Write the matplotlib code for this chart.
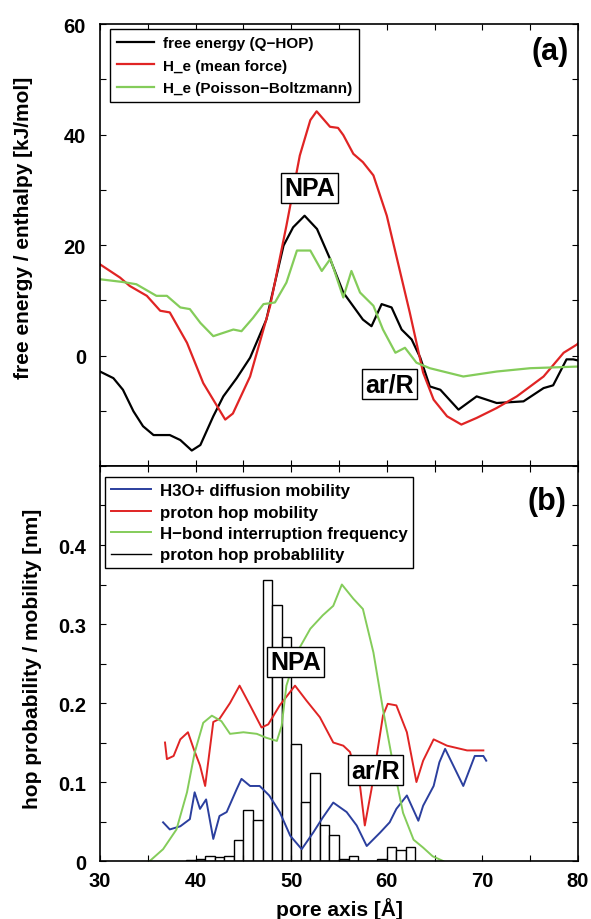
import numpy as np
import matplotlib
matplotlib.use("Agg")
import matplotlib.pyplot as plt
from matplotlib.ticker import MultipleLocator, FixedLocator, FuncFormatter
from matplotlib.lines import Line2D

plt.rcParams['font.family'] = ['Liberation Sans', 'DejaVu Sans']

# ---- panel (a): free energy / enthalpy profiles along the pore axis
fe_x = [30, 31.4, 32.4, 33.5, 34.5, 35.6, 37.3, 38.4, 39.6, 40.5, 41.85, 42.9, 44.3, 45.7,
        47.4, 49.2, 50.2, 51.4, 52.7, 54.06, 55.45, 57.5, 58.4, 59.46, 60.5, 61.55, 62.6,
        63.5, 64.5, 65.6, 67.5, 69.4, 71.5, 74.3, 76.4, 77.4, 78.8, 79.5, 80]
fe_y = [-2.9, -4.1, -6.2, -10.1, -12.8, -14.4, -14.4, -15.3, -17.2, -16.2, -11.0, -7.4, -4.1,
        -0.4, 6.5, 19.9, 23.2, 25.3, 22.9, 17.5, 11.4, 6.5, 5.3, 9.3, 8.7, 4.7, 2.9,
        -0.4, -5.6, -6.2, -9.8, -7.4, -8.6, -8.3, -5.9, -5.4, -0.7, -0.7, -0.9]

mf_x = [30, 32.1, 33.1, 34.9, 36.3, 37.3, 39.1, 40.8, 43.1, 43.9, 45.7, 47.8, 49.5, 50.9,
        52.0, 52.66, 54.06, 54.9, 55.45, 56.5, 57.5, 58.6, 60.0, 61.0, 62.4, 63.8, 64.9,
        66.3, 67.8, 69.4, 71.5, 73.6, 76.4, 78.5, 79.9, 80]
mf_y = [16.5, 14.1, 12.6, 10.8, 8.1, 7.8, 2.3, -5.0, -11.6, -10.5, -3.8, 9.0, 23.5, 36.2,
        42.6, 44.2, 41.4, 41.2, 39.9, 36.5, 35.0, 32.6, 25.3, 18.0, 7.8, -3.1, -8.0,
        -11.0, -12.5, -11.3, -9.5, -7.4, -3.8, 0.5, 2.0, 2.2]

pb_x = [30, 32.4, 33.8, 35.9, 37.0, 38.4, 39.4, 40.5, 41.85, 43.95, 44.8, 46.0, 47.1, 48.3,
        49.5, 50.6, 52.0, 53.2, 54.1, 55.45, 56.3, 57.2, 58.6, 59.6, 60.9, 61.9, 63.1,
        64.5, 68.0, 71.5, 75.0, 80]
pb_y = [13.8, 13.3, 12.9, 10.8, 10.8, 8.7, 8.4, 5.9, 3.5, 4.7, 4.4, 6.8, 9.3, 9.6,
        13.2, 19.0, 19.0, 15.3, 17.5, 10.5, 15.3, 11.4, 9.0, 4.7, 0.5, 1.4, -1.3,
        -2.3, -3.8, -2.9, -2.3, -2.0]

# ---- panel (b): mobilities and hop probability
h3o_x = [36.6, 37.3, 38.4, 39.4, 39.9, 40.46, 41.1, 41.85, 42.5, 43.25, 44.3, 44.8, 45.7,
         46.7, 47.7, 48.8, 49.9, 51.1, 52.3, 53.3, 54.4, 55.8, 56.85, 57.9, 59.3, 60.3,
         61.0, 62.1, 63.3, 63.8, 64.9, 65.5, 66.1, 66.95, 68.0, 69.2, 70.1, 70.4]
h3o_y = [0.049, 0.040, 0.044, 0.053, 0.087, 0.066, 0.078, 0.028, 0.057, 0.062, 0.091, 0.104,
         0.095, 0.095, 0.083, 0.062, 0.032, 0.015, 0.036, 0.055, 0.074, 0.062, 0.045, 0.019,
         0.036, 0.049, 0.066, 0.083, 0.051, 0.070, 0.095, 0.125, 0.142, 0.121, 0.095, 0.133,
         0.133, 0.127]

hop_x = [36.8, 37.0, 37.7, 38.4, 39.2, 39.8, 40.46, 41.0, 41.85, 42.5, 43.6, 44.6, 45.7,
         46.9, 47.6, 48.8, 50.4, 51.6, 53.0, 54.4, 55.45, 56.15, 57.2, 57.7, 58.4, 59.6,
         60.1, 61.0, 62.1, 63.1, 63.8, 64.9, 66.3, 68.4, 70.1]
hop_y = [0.150, 0.129, 0.133, 0.154, 0.163, 0.142, 0.121, 0.095, 0.176, 0.180, 0.200, 0.222,
         0.197, 0.169, 0.173, 0.197, 0.222, 0.203, 0.182, 0.150, 0.146, 0.138, 0.095, 0.045,
         0.091, 0.184, 0.199, 0.197, 0.163, 0.100, 0.127, 0.154, 0.146, 0.140, 0.140]

hb_x = [35.2, 36.6, 38.0, 39.1, 39.9, 40.8, 41.7, 42.7, 43.6, 45.0, 46.4, 47.4, 48.5, 49.0,
        49.5, 50.6, 52.0, 53.3, 54.4, 55.3, 56.5, 57.5, 58.6, 59.6, 60.7, 61.7, 62.8,
        63.8, 64.8, 65.9]
hb_y = [0.0, 0.015, 0.040, 0.087, 0.137, 0.175, 0.184, 0.177, 0.161, 0.163, 0.161, 0.156,
        0.152, 0.171, 0.222, 0.264, 0.294, 0.311, 0.323, 0.350, 0.332, 0.319, 0.264, 0.192,
        0.120, 0.061, 0.027, 0.017, 0.006, 0.0]

# histogram of proton hop probability, 1 A bins (left edges)
bin_left = [39, 40, 41, 42, 43, 44, 45, 46, 47, 48, 49, 50, 51, 52, 53, 54, 55, 56, 57, 58,
            59, 60, 61, 62]
bin_prob = [0.001, 0.003, 0.006, 0.005, 0.007, 0.026, 0.065, 0.052, 0.356, 0.324, 0.284,
            0.148, 0.075, 0.111, 0.046, 0.033, 0.003, 0.006, 0.0, 0.0, 0.003, 0.018, 0.014,
            0.018]

red = '#e02424'
green = '#84cc5a'
blue = '#2b3f9e'

fig = plt.figure(figsize=(5.91, 9.2), dpi=100)
ax1 = fig.add_axes([0.1692, 0.4924, 0.8088, 0.4804])
ax2 = fig.add_axes([0.1692, 0.0630, 0.8088, 0.4294])

ax1.plot(fe_x, fe_y, color='black', lw=1.6, label='free energy (Q\u2212HOP)')
ax1.plot(mf_x, mf_y, color=red, lw=1.6, label='H_e (mean force)')
ax1.plot(pb_x, pb_y, color=green, lw=1.6, label='H_e (Poisson\u2212Boltzmann)')

ax1.set_xlim(30, 80)
ax1.set_ylim(-20, 60)
ax1.yaxis.set_major_locator(FixedLocator([0, 20, 40, 60]))
ax1.yaxis.set_minor_locator(MultipleLocator(10))
ax1.set_ylabel('free energy / enthalpy [kJ/mol]', fontsize=15, fontweight='bold')
ax1.yaxis.set_label_coords(-0.140, 0.540)

ax2.bar(bin_left, bin_prob, width=1.0, align='edge', facecolor='white',
        edgecolor='black', lw=1.0, zorder=1)
ax2.plot(h3o_x, h3o_y, color=blue, lw=1.4, zorder=2)
ax2.plot(hop_x, hop_y, color=red, lw=1.4, zorder=2)
ax2.plot(hb_x, hb_y, color=green, lw=1.4, zorder=2)

ax2.set_xlim(30, 80)
ax2.set_ylim(0, 0.5)
ax2.yaxis.set_major_locator(FixedLocator([0, 0.1, 0.2, 0.3, 0.4]))
ax2.yaxis.set_minor_locator(MultipleLocator(0.05))
ax2.yaxis.set_major_formatter(FuncFormatter(lambda v, p: '0' if v == 0 else f'{v:.1f}'))
ax2.set_ylabel('hop probability / mobility [nm]', fontsize=15, fontweight='bold')
ax2.yaxis.set_label_coords(-0.121, 0.515)
ax2.set_xlabel('pore axis [\u00c5]', fontsize=15, fontweight='bold', labelpad=5)

for ax in (ax1, ax2):
    ax.xaxis.set_major_locator(MultipleLocator(10))
    ax.xaxis.set_minor_locator(MultipleLocator(5))
    ax.tick_params(which='both', direction='in', top=True, right=True, length=4, width=0.8)
    ax.tick_params(which='major', labelsize=14.5, pad=10)
    for lbl in ax.get_xticklabels() + ax.get_yticklabels():
        lbl.set_fontweight('bold')
    for s in ax.spines.values():
        s.set_linewidth(1.2)
ax1.tick_params(labelbottom=False)
ax2.tick_params(axis='x', pad=7)

leg1 = ax1.legend(loc='upper left', bbox_to_anchor=(0.01, 1.0), borderaxespad=0.35,
                  prop={'weight': 'bold', 'size': 11}, handlelength=2.4,
                  handletextpad=0.6, labelspacing=0.55, borderpad=0.45, fancybox=False,
                  edgecolor='black', framealpha=1)
leg1.get_frame().set_linewidth(1.0)

handles = [Line2D([], [], color=blue, lw=1.4), Line2D([], [], color=red, lw=1.4),
           Line2D([], [], color=green, lw=1.4), Line2D([], [], color='black', lw=1.0)]
labels = ['H3O+ diffusion mobility', 'proton hop mobility',
          'H\u2212bond interruption frequency', 'proton hop probablility']
leg2 = ax2.legend(handles, labels, loc='upper left', bbox_to_anchor=(-0.008, 0.993),
                  prop={'weight': 'bold', 'size': 12.2}, handlelength=2.4,
                  handletextpad=0.5, labelspacing=0.38, borderpad=0.35, fancybox=False,
                  edgecolor='black', framealpha=1)
leg2.get_frame().set_linewidth(1.0)

box = dict(boxstyle='square,pad=0.12', facecolor='white', edgecolor='black', lw=1.0)
ax1.text(51.9, 30.4, 'NPA', fontsize=18, fontweight='bold', ha='center', va='center',
         bbox=box, zorder=5)
ax1.text(60.3, -5.2, 'ar/R', fontsize=18, fontweight='bold', ha='center', va='center',
         bbox=box, zorder=5)
ax2.text(50.45, 0.2525, 'NPA', fontsize=18, fontweight='bold', ha='center', va='center',
         bbox=box, zorder=5)
ax2.text(58.8, 0.1146, 'ar/R', fontsize=18, fontweight='bold', ha='center', va='center',
         bbox=box, zorder=5)

ax1.text(0.98, 0.94, '(a)', transform=ax1.transAxes, fontsize=22, fontweight='bold',
         ha='right', va='center')
ax2.text(0.975, 0.912, '(b)', transform=ax2.transAxes, fontsize=22, fontweight='bold',
         ha='right', va='center')

fig.savefig('out.png', dpi=100)
